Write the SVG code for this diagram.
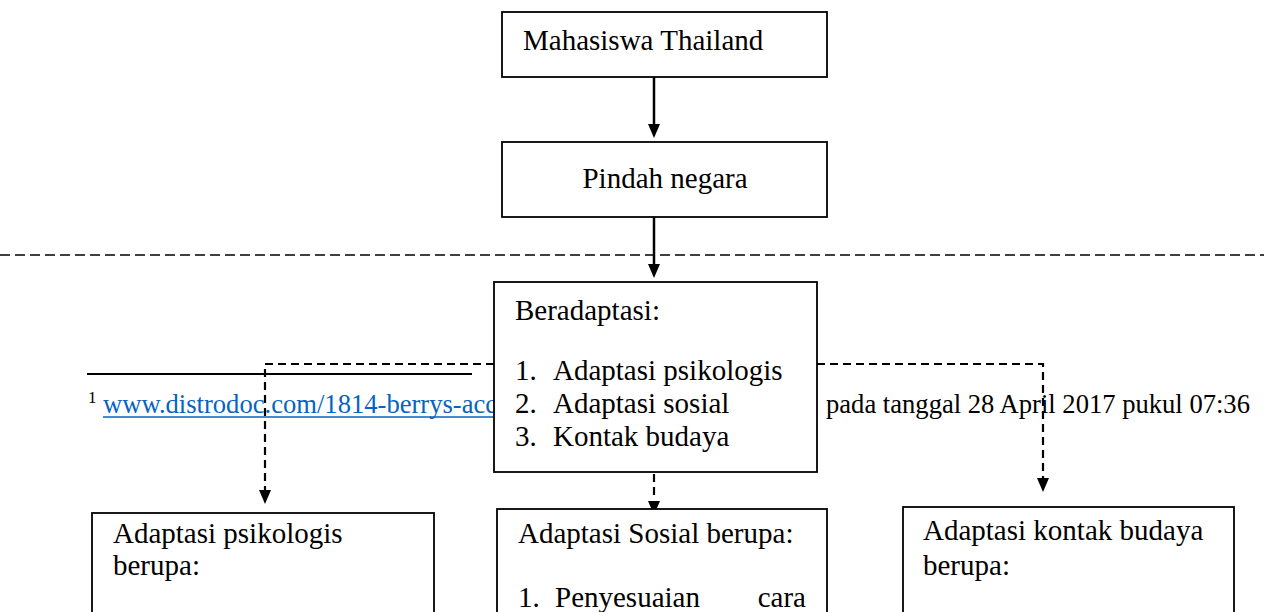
<svg xmlns="http://www.w3.org/2000/svg" width="1264" height="612" viewBox="0 0 1264 612">
<style>
.box{fill:#fff;stroke:#000;stroke-width:1.8}
.t{font-family:"Liberation Serif","Times New Roman",serif;font-size:29px;fill:#000}
.fn{font-family:"Liberation Serif","Times New Roman",serif;font-size:26.6px;fill:#000}
.solid{stroke:#000;stroke-width:2.5;fill:none}
.dash{stroke:#000;stroke-width:2.2;fill:none;stroke-dasharray:8,5}
.head{fill:#000}
</style>
<defs>
<path id="tri" d="M-6,-14 L6,-14 L0,0 Z"/>
</defs>
<rect width="1264" height="612" fill="#fff"/>
<line x1="0" y1="255" x2="1264" y2="255" stroke="#000" stroke-width="1.5" stroke-dasharray="10,5"/>
<g id="footnote">
<line x1="87" y1="374" x2="472" y2="374" stroke="#000" stroke-width="2"/>
<text x="88" y="403" class="fn" style="font-size:17px">1</text>
<text x="103" y="413" class="fn" style="fill:#0563C1">www.distrodoc.com/1814-berrys-acc</text>
<line x1="103" y1="417" x2="494" y2="417" stroke="#0563C1" stroke-width="1.5"/>
<text x="826" y="413" class="fn">pada tanggal 28 April 2017 pukul 07:36</text>
</g>
<g id="connectors">
<line class="solid" x1="654" y1="77" x2="654" y2="124"/>
<use href="#tri" class="head" x="654" y="138"/>
<line class="solid" x1="654" y1="217" x2="654" y2="264"/>
<use href="#tri" class="head" x="654" y="278"/>
<polyline class="dash" points="494,364 265,364 265,490"/>
<use href="#tri" class="head" x="265" y="504"/>
<line class="dash" x1="654" y1="474" x2="654" y2="500"/>
<use href="#tri" class="head" x="654" y="515"/>
<polyline class="dash" points="817,364 1043,364 1043,478"/>
<use href="#tri" class="head" x="1043" y="492"/>
</g>
<g id="n1">
<rect class="box" x="502" y="12" width="325" height="65"/>
<text class="t" x="523" y="50">Mahasiswa Thailand</text>
</g>
<g id="n2">
<rect class="box" x="502" y="142" width="325" height="75"/>
<text class="t" x="665" y="188" text-anchor="middle">Pindah negara</text>
</g>
<g id="n3">
<rect class="box" x="494" y="282" width="323" height="190"/>
<text class="t" x="515" y="320">Beradaptasi:</text>
<text class="t" x="515" y="380">1.</text><text class="t" x="553" y="380">Adaptasi psikologis</text>
<text class="t" x="515" y="413">2.</text><text class="t" x="553" y="413">Adaptasi sosial</text>
<text class="t" x="515" y="446">3.</text><text class="t" x="553" y="446">Kontak budaya</text>
</g>
<g id="n4">
<rect class="box" x="92" y="513" width="342" height="110"/>
<text class="t" x="113" y="543">Adaptasi psikologis</text>
<text class="t" x="113" y="575">berupa:</text>
</g>
<g id="n5">
<rect class="box" x="497" y="509" width="330" height="115"/>
<text class="t" x="518" y="543">Adaptasi Sosial berupa:</text>
<text class="t" x="518" y="607">1.</text><text class="t" x="555" y="607">Penyesuaian</text>
<text class="t" x="806" y="607" text-anchor="end">cara</text>
</g>
<g id="n6">
<rect class="box" x="903" y="507" width="331" height="115"/>
<text class="t" x="923" y="540">Adaptasi kontak budaya</text>
<text class="t" x="923" y="575">berupa:</text>
</g>
</svg>
